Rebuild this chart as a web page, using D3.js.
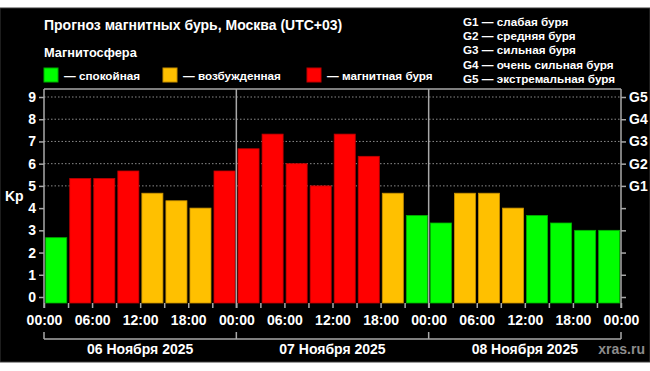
<!DOCTYPE html>
<html>
<head>
<meta charset="utf-8">
<script src="https://cdnjs.cloudflare.com/ajax/libs/d3/7.8.5/d3.min.js"></script>
<style>
    body { margin: 0; background: #fff; }
    svg text { font-family: "Liberation Sans", Arial, sans-serif; font-weight: bold; }
</style>
</head>
<body>
<div id="chart"></div>
<script>
// Kp forecast, one value per 3 hours, 06-08 Nov 2025 (UTC+03)
var startDay = Date.UTC(2025, 10, 6);
var dayLabels = ["06 Ноября 2025", "07 Ноября 2025", "08 Ноября 2025"];
var kpValues = [2.67, 5.33, 5.33, 5.67, 4.67, 4.33, 4.00, 5.67,
                6.67, 7.33, 6.00, 5.00, 7.33, 6.33, 4.67, 3.67,
                3.33, 4.67, 4.67, 4.00, 3.67, 3.33, 3.00, 3.00];
var kpTicks = [0, 1, 2, 3, 4, 5, 6, 7, 8, 9];
var gTicks = [5, 6, 7, 8, 9];
var gLabels = ["G1", "G2", "G3", "G4", "G5"];
var stateLabels = ["— спокойная", "— возбужденная", "— магнитная буря"];
var stormLegend = ["G1 — слабая буря", "G2 — средняя буря", "G3 — сильная буря",
                   "G4 — очень сильная буря", "G5 — экстремальная буря"];
var title = "Прогноз магнитных бурь, Москва (UTC+03)";
var subtitle = "Магнитосфера";

var stateColors = ["#00ff00", "#ffc000", "#ff0000"];
var stateStroke = ["#00b000", "#c89000", "#c00000"];
var HOUR = 3600 * 1000;

function stateOf(v) {
    if (v < 4) return 0;
    if (v < 5) return 1;
    return 2;
}

var width = 650, height = 371;
var margin = {top: 89, right: 29, bottom: 68, left: 44};
var plotRight = width - margin.right;
var plotBottom = height - margin.bottom;
var axisColor = "#a8a8a8";
var legendSize = 11.7;

var svg = d3.select("#chart").append("svg")
    .attr("width", width)
    .attr("height", height);

svg.append("rect")
    .attr("x", 0).attr("y", 8)
    .attr("width", width).attr("height", 354)
    .attr("fill", "#000")
    .attr("stroke", "#3a3a3a");

var x = d3.scaleUtc()
    .domain([new Date(startDay), new Date(startDay + 72 * HOUR)])
    .range([margin.left, plotRight]);

var y = d3.scaleLinear()
    .domain([-0.27, 9.36])
    .range([plotBottom, margin.top]);

// header
svg.append("text")
    .attr("x", margin.left).attr("y", 30)
    .attr("fill", "#fff").attr("font-size", 14)
    .text(title);

svg.append("text")
    .attr("x", margin.left).attr("y", 57)
    .attr("fill", "#fff").attr("font-size", 12.8)
    .text(subtitle);

var legendX = [44, 163, 307];
var leg = svg.selectAll(".leg")
    .data(stateLabels)
    .enter().append("g")
    .attr("transform", function(d, i) { return "translate(" + legendX[i] + ",68)"; });
leg.append("rect")
    .attr("width", 14).attr("height", 14)
    .attr("fill", function(d, i) { return stateColors[i]; })
    .attr("stroke", function(d, i) { return stateStroke[i]; });
leg.append("text")
    .attr("x", 20).attr("y", 11.5)
    .attr("fill", "#fff").attr("font-size", legendSize)
    .text(function(d) { return d; });

svg.selectAll(".storm")
    .data(stormLegend)
    .enter().append("text")
    .attr("x", 463)
    .attr("y", function(d, i) { return 26 + i * 14.2; })
    .attr("fill", "#fff").attr("font-size", legendSize)
    .text(function(d) { return d; });

// grid
svg.selectAll(".grid")
    .data(gTicks)
    .enter().append("line")
    .attr("x1", margin.left).attr("x2", plotRight)
    .attr("y1", function(d) { return y(d); })
    .attr("y2", function(d) { return y(d); })
    .attr("stroke", "#8a8a8a")
    .attr("stroke-dasharray", "1.5,2");

// bars
svg.selectAll(".bar")
    .data(kpValues)
    .enter().append("rect")
    .attr("x", function(d, i) { return x(new Date(startDay + i * 3 * HOUR)) + 1.7; })
    .attr("width", function(d, i) {
        return x(new Date(startDay + (i + 1) * 3 * HOUR)) - x(new Date(startDay + i * 3 * HOUR)) - 3;
    })
    .attr("y", function(d) { return y(d); })
    .attr("height", function(d) { return y.range()[0] - y(d); })
    .attr("fill", function(d) { return stateColors[stateOf(d)]; })
    .attr("stroke", function(d) { return stateStroke[stateOf(d)]; })
    .attr("stroke-width", 0.8);

// frame and day separators
var dayBounds = d3.range(dayLabels.length + 1).map(function(i) { return new Date(startDay + i * 24 * HOUR); });

svg.append("line")
    .attr("x1", margin.left).attr("x2", plotRight)
    .attr("y1", margin.top).attr("y2", margin.top)
    .attr("stroke", axisColor).attr("stroke-width", 1.5);

svg.selectAll(".sep")
    .data(dayBounds)
    .enter().append("line")
    .attr("x1", function(d) { return x(d); })
    .attr("x2", function(d) { return x(d); })
    .attr("y1", margin.top).attr("y2", plotBottom + 5)
    .attr("stroke", axisColor).attr("stroke-width", 1.5);

// axes
var yLeft = svg.append("g")
    .attr("transform", "translate(" + margin.left + ",0)")
    .call(d3.axisLeft(y).tickValues(kpTicks).tickSize(5).tickPadding(3).tickFormat(d3.format("d")));

var yRight = svg.append("g")
    .attr("transform", "translate(" + plotRight + ",0)")
    .call(d3.axisRight(y).tickValues(kpTicks).tickSize(5).tickPadding(3)
        .tickFormat(function(d) { var k = gTicks.indexOf(d); return k < 0 ? "" : gLabels[k]; }));

var xAxis = svg.append("g")
    .attr("transform", "translate(0," + plotBottom + ")")
    .call(d3.axisBottom(x).ticks(d3.utcHour.every(3)).tickSize(5).tickPadding(7)
        .tickFormat(function(d) { return d.getUTCHours() % 6 === 0 ? d3.utcFormat("%H:%M")(d) : ""; }));

[yLeft, yRight, xAxis].forEach(function(g) {
    g.select(".domain").remove();
    g.selectAll("line").attr("stroke", axisColor).attr("stroke-width", 1.5);
    g.selectAll("text")
        .attr("fill", "#fff")
        .attr("font-size", 14)
        .attr("font-family", "Liberation Sans, Arial, sans-serif")
        .attr("font-weight", "bold");
});

svg.append("text")
    .attr("x", 5).attr("y", 201)
    .attr("fill", "#fff").attr("font-size", 14)
    .text("Kp");

// day bracket
svg.append("line")
    .attr("x1", x(dayBounds[0])).attr("x2", x(dayBounds[dayBounds.length - 1]))
    .attr("y1", 339).attr("y2", 339)
    .attr("stroke", axisColor).attr("stroke-width", 1.5);

svg.selectAll(".dtick")
    .data(dayBounds)
    .enter().append("line")
    .attr("x1", function(d) { return x(d); })
    .attr("x2", function(d) { return x(d); })
    .attr("y1", 332).attr("y2", 339)
    .attr("stroke", axisColor).attr("stroke-width", 1.5);

svg.selectAll(".day")
    .data(dayLabels)
    .enter().append("text")
    .attr("x", function(d, i) { return x(new Date(startDay + (i * 24 + 12) * HOUR)); })
    .attr("y", 354)
    .attr("text-anchor", "middle")
    .attr("fill", "#fff").attr("font-size", 14)
    .text(function(d) { return d; });

svg.append("text")
    .attr("x", 645).attr("y", 354)
    .attr("text-anchor", "end")
    .attr("fill", "#8c8c8c").attr("font-size", 14)
    .text("xras.ru");
</script>
</body>
</html>
